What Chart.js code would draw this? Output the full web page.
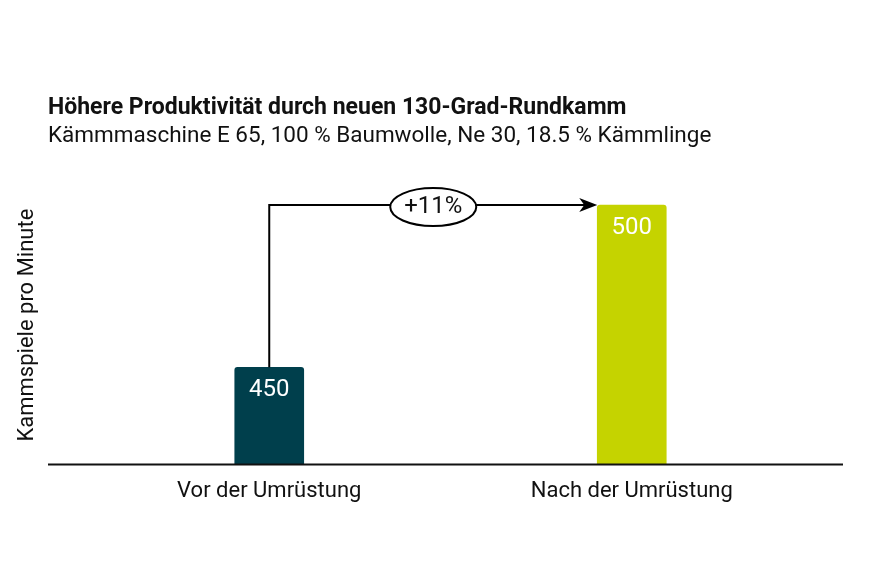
<!DOCTYPE html>
<html>
<head>
<meta charset="utf-8">
<script src="https://cdn.jsdelivr.net/npm/chart.js@4.4.1/dist/chart.umd.min.js"></script>
<style>
  html, body { margin: 0; padding: 0; background: #fff; }
  #wrap { width: 890px; height: 586px; position: relative; }
</style>
</head>
<body>
<div id="wrap"><canvas id="chart"></canvas></div>
<script>
// data
const categories = ['Vor der Umrüstung', 'Nach der Umrüstung'];
const values = [450, 500];
const barColors = ['#003f4c', '#c5d300'];
const changeLabel = '+11%';

const FONT = 'Roboto';

// value labels inside bars, arrow + ellipse, long baseline
const decor = {
  id: 'decor',
  afterDatasetsDraw(chart) {
    const { ctx, chartArea } = chart;
    const y = chart.scales.y;
    const meta = chart.getDatasetMeta(0);
    ctx.save();

    // baseline
    ctx.strokeStyle = '#111';
    ctx.lineWidth = 2;
    ctx.beginPath();
    ctx.moveTo(chartArea.left - 40, y.bottom);
    ctx.lineTo(chartArea.right + 30, y.bottom);
    ctx.stroke();

    // values
    ctx.fillStyle = '#fff';
    ctx.font = '24px ' + FONT;
    ctx.textAlign = 'center';
    ctx.textBaseline = 'middle';
    meta.data.forEach((bar, i) => {
      ctx.fillText(values[i], bar.x, bar.y + 23);
    });

    // arrow
    const b0 = meta.data[0], b1 = meta.data[1];
    const x0 = b0.x, yTop = b1.y;
    const xEnd = b1.x - b1.width / 2;
    ctx.strokeStyle = '#000';
    ctx.lineWidth = 2;
    ctx.beginPath();
    ctx.moveTo(x0, b0.y);
    ctx.lineTo(x0, yTop);
    ctx.lineTo(xEnd - 12, yTop);
    ctx.stroke();
    ctx.fillStyle = '#000';
    ctx.beginPath();
    ctx.moveTo(xEnd, yTop);
    ctx.lineTo(xEnd - 18, yTop - 7);
    ctx.lineTo(xEnd - 13, yTop);
    ctx.lineTo(xEnd - 18, yTop + 7);
    ctx.closePath();
    ctx.fill();

    // ellipse with change label
    const cx = (x0 + xEnd) / 2, cy = yTop + 2;
    ctx.fillStyle = '#fff';
    ctx.beginPath();
    ctx.ellipse(cx, cy, 43, 19, 0, 0, Math.PI * 2);
    ctx.fill();
    ctx.stroke();
    ctx.fillStyle = '#111';
    ctx.font = '24px ' + FONT;
    ctx.fillText(changeLabel, cx, cy);
    ctx.restore();
  }
};

new Chart(document.getElementById('chart'), {
  type: 'bar',
  data: {
    labels: categories,
    datasets: [{
      data: values,
      backgroundColor: barColors,
      barThickness: 69,
      borderRadius: { topLeft: 3, topRight: 3 },
      borderSkipped: 'bottom'
    }]
  },
  options: {
    responsive: true,
    maintainAspectRatio: false,
    animation: false,
    layout: { padding: { left: 48, right: 77, top: 0, bottom: 67 } },
    plugins: {
      legend: { display: false },
      tooltip: { enabled: false },
      title: {
        display: true,
        text: 'Höhere Produktivität durch neuen 130-Grad-Rundkamm',
        align: 'start',
        color: '#111',
        font: { family: FONT, size: 23, weight: 'bold' },
        padding: { top: 94, bottom: 1 }
      },
      subtitle: {
        display: true,
        text: 'Kämmmaschine E 65, 100 % Baumwolle, Ne 30, 18.5 % Kämmlinge',
        align: 'start',
        color: '#111',
        font: { family: FONT, size: 22.5 },
        padding: { top: 0, bottom: 36 }
      }
    },
    scales: {
      x: {
        grid: { display: false, drawTicks: false },
        border: { display: false },
        ticks: { color: '#111', padding: 14, font: { family: FONT, size: 22 } }
      },
      y: {
        min: 420,
        max: 506,
        grid: { display: false, drawTicks: false },
        border: { display: false },
        ticks: { display: false },
        title: {
          display: true,
          text: 'Kammspiele pro Minute',
          color: '#111',
          font: { family: FONT, size: 22 },
          padding: { top: -34, bottom: 0 }
        },
        afterFit(scale) { scale.width = 40; }
      }
    }
  },
  plugins: [decor]
});
</script>
</body>
</html>
